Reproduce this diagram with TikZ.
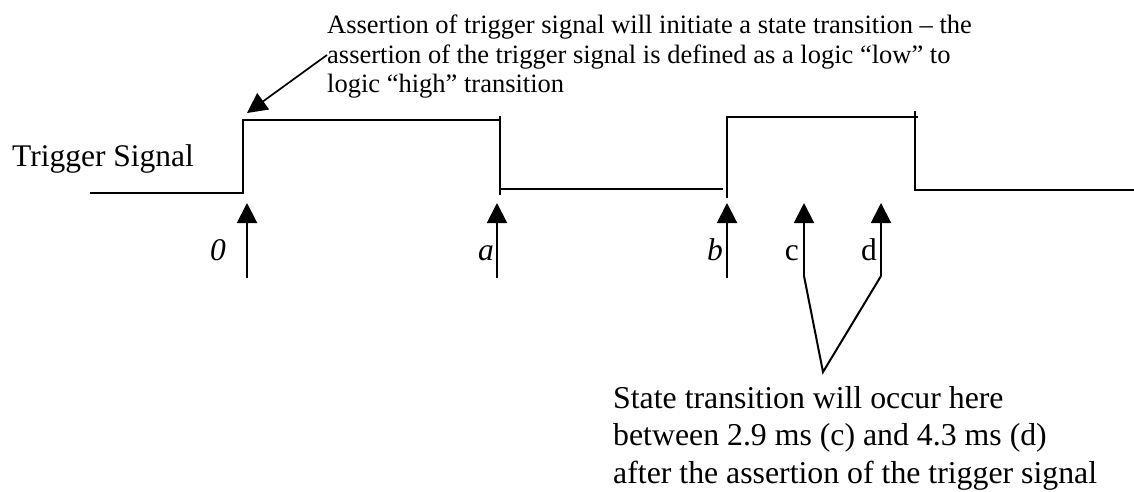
\documentclass[tikz,border=0pt]{standalone}
\usepackage{fontspec}
\setmainfont{Liberation Serif}
\usetikzlibrary{arrows.meta}

\begin{document}
\begin{tikzpicture}[x=1pt, y=-1pt]
    % Define styles
    \tikzset{
      wave/.style={line width=2.2pt},
      marker/.style={line width=2pt, -{Triangle[length=20pt, width=20pt]}},
      tag/.style={font=\fontsize{31.5}{36}\selectfont, inner sep=0pt},
      note/.style={align=left, anchor=north west, inner sep=0pt}
    }

    % Define levels of the signal
    \def\highY{120}
    \def\tipY{203}
    \def\tailY{278}

  \useasboundingbox (0,0) rectangle (1134,492);

  % Name of the signal
  \node[tag, anchor=base west] (name) at (12,166) {Trigger Signal};

  % Draw the waveform
  \draw[wave] (90,193) -- (243,193) -- (243,\highY) -- (500,\highY);
  \draw[wave] (500,116) -- (500,195);
  \draw[wave] (500,189) -- (723,189);
  \draw[wave] (727,198) -- (727,117) -- (918,117);
  \draw[wave] (915,111) -- (915,190) -- (1134,190);

  % Time markers
  \foreach \x/\lbl in {247/0, 497/a, 727/b, 804/c, 881/d}
    \coordinate (tip\lbl) at (\x,\tipY);
  \coordinate (tail0) at (247,\tailY);
  \coordinate (taila) at (497,\tailY);
  \coordinate (tailb) at (727,\tailY);
  \coordinate (tailc) at (804,276);
  \coordinate (taild) at (881,276);
  \foreach \lbl in {0,a,b,c,d}
    \draw[marker] (tail\lbl) -- (tip\lbl);

  % Label the markers
  \node[tag, anchor=base east] (lbl0) at (226,260) {\itshape 0};
  \node[tag, anchor=base east] (lbla) at (494,260) {\itshape a};
  \node[tag, anchor=base east] (lblb) at (723,260) {\itshape b};
  \node[tag, anchor=base east] (lblc) at (799,260) {c};
  \node[tag, anchor=base east] (lbld) at (877,260) {d};

  % Window between c and d
  \coordinate (apex) at (823,372);
  \draw[line width=2pt] (tailc) -- (apex) -- (taild);

  % Notes
  \node[note, font=\fontsize{26.5}{29.5}\selectfont] (top) at (327,15)
    {Assertion of trigger signal will initiate a state transition -- the\\
     assertion of the trigger signal is defined as a logic ``low'' to\\
     logic ``high'' transition};
  \node[note, font=\fontsize{31.8}{37.5}\selectfont] (bottom) at (613,386)
    {State transition will occur here\\
     between 2.9 ms (c) and 4.3 ms (d)\\
     after the assertion of the trigger signal};

  \coordinate (start) at (327,55);
  \draw[line width=1.7pt, -{Triangle[length=20pt, width=20pt]}] (start) -- (247,113);

\end{tikzpicture}
\end{document}
